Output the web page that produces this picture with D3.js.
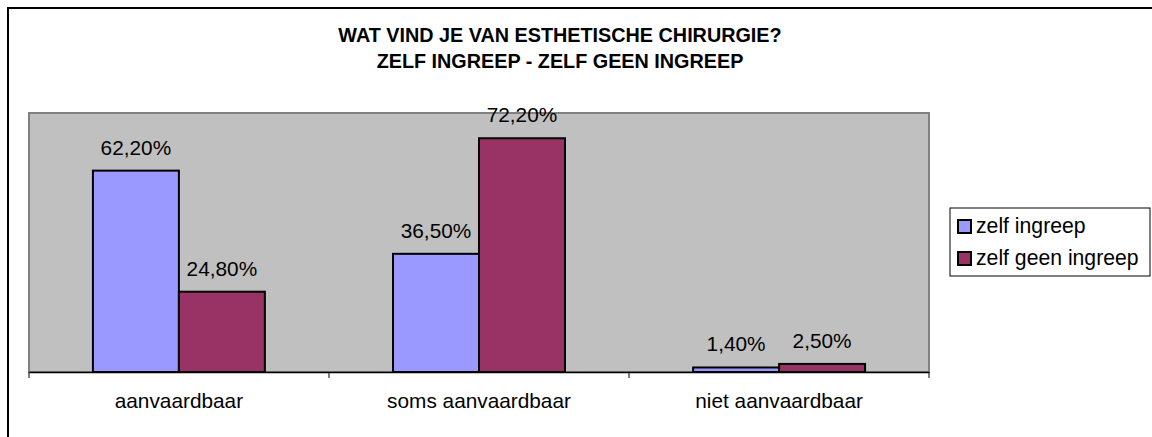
<!DOCTYPE html>
<html>
<head>
<meta charset="utf-8">
<script src="https://cdn.jsdelivr.net/npm/d3@7"></script>
<style>
  body { margin: 0; background: #fff; }
  svg { display: block; font-family: Arial, "Liberation Sans", sans-serif; }
</style>
</head>
<body>
<svg id="chart" width="1152" height="437"></svg>
<script>
// chart data
let categories = ["aanvaardbaar", "soms aanvaardbaar", "niet aanvaardbaar"];
let seriesNames = ["zelf ingreep", "zelf geen ingreep"];
let zelfIngreep = [62.2, 36.5, 1.4];
let zelfGeenIngreep = [24.8, 72.2, 2.5];
let colors = ["#9999FF", "#993366"];
let titleLines = ["WAT VIND JE VAN ESTHETISCHE CHIRURGIE?", "ZELF INGREEP - ZELF GEEN INGREEP"];

function makeChart(){
  let svg = d3.select("#chart");

  // outer chart border (runs off the picture at right and bottom)
  svg.append("rect")
    .attr("x", 8).attr("y", 8)
    .attr("width", 1160).attr("height", 450)
    .attr("fill", "#fff")
    .attr("stroke", "#000")
    .attr("stroke-width", 2);

  // title
  svg.selectAll(".title")
    .data(titleLines)
    .enter()
    .append("text")
      .attr("class", "title")
      .attr("x", 560)
      .attr("y", function(d, i){ return 42 + i * 26; })
      .attr("text-anchor", "middle")
      .style("font-weight", "bold")
      .style("font-size", "19.8px")
      .text(function(d){ return d; });

  let margin = {top: 113, left: 29};
  let width = 900;
  let height = 259;

  let g = svg.append("g")
    .attr("transform", "translate(" + margin.left + "," + margin.top + ")");

  // plot area
  g.append("rect")
    .attr("x", 0).attr("y", 0)
    .attr("width", width).attr("height", height)
    .attr("fill", "#C0C0C0")
    .attr("stroke", "#808080")
    .attr("stroke-width", 2);

  let x0 = d3.scaleBand()
    .domain(categories)
    .range([0, width])
    .paddingInner(0.427)
    .paddingOuter(0.213);

  let x1 = d3.scaleBand()
    .domain(seriesNames)
    .range([0, x0.bandwidth()]);

  let y = d3.scaleLinear()
    .domain([0, 80])
    .range([height, 0]);

  let rows = categories.map(function(c, i){
    return {cat: c, vals: [zelfIngreep[i], zelfGeenIngreep[i]]};
  });

  let groups = g.selectAll(".grp")
    .data(rows)
    .enter()
    .append("g")
      .attr("class", "grp")
      .attr("transform", function(d){ return "translate(" + x0(d.cat) + ",0)"; });

  let cells = groups.selectAll(".bar")
    .data(function(d){
      return d.vals.map(function(v, j){ return {name: seriesNames[j], v: v, j: j}; });
    })
    .enter();

  cells.append("rect")
    .attr("class", "bar")
    .attr("x", function(d){ return x1(d.name); })
    .attr("y", function(d){ return y(d.v); })
    .attr("width", x1.bandwidth())
    .attr("height", function(d){ return height - y(d.v); })
    .attr("fill", function(d){ return colors[d.j]; })
    .attr("stroke", "#000")
    .attr("stroke-width", 2);

  cells.append("text")
    .attr("x", function(d){ return x1(d.name) + x1.bandwidth() / 2; })
    .attr("y", function(d){ return y(d.v) - 16; })
    .attr("text-anchor", "middle")
    .style("font-size", "20.8px")
    .text(function(d){ return d.v.toFixed(2).replace(".", ",") + "%"; });

  // x axis
  let axis = g.append("g")
    .attr("transform", "translate(0," + height + ")")
    .call(d3.axisBottom(x0).tickSize(0).tickPadding(21));
  axis.select(".domain").attr("stroke", "#000").attr("stroke-width", 1.5);
  axis.selectAll("text")
    .style("font-size", "20.8px")
    .style("font-family", "Arial, 'Liberation Sans', sans-serif")
    .attr("fill", "#000");

  // tick marks between categories
  g.selectAll(".tk")
    .data(d3.range(categories.length + 1))
    .enter()
    .append("line")
      .attr("class", "tk")
      .attr("x1", function(i){ return i * width / categories.length; })
      .attr("x2", function(i){ return i * width / categories.length; })
      .attr("y1", height)
      .attr("y2", height + 6)
      .attr("stroke", "#000")
      .attr("stroke-width", 1);

  // legend
  let legend = svg.append("g")
    .attr("transform", "translate(950,208)");
  legend.append("rect")
    .attr("width", 200).attr("height", 68)
    .attr("fill", "#fff")
    .attr("stroke", "#000")
    .attr("stroke-width", 1);
  let items = legend.selectAll(".lg")
    .data(seriesNames)
    .enter()
    .append("g")
      .attr("class", "lg")
      .attr("transform", function(d, i){ return "translate(7," + (25 + i * 32) + ")"; });
  items.append("rect")
    .attr("x", 1).attr("y", -13)
    .attr("width", 13).attr("height", 13)
    .attr("fill", function(d, i){ return colors[i]; })
    .attr("stroke", "#000")
    .attr("stroke-width", 2);
  items.append("text")
    .attr("x", 19).attr("y", 0)
    .style("font-size", "21.2px")
    .text(function(d){ return d; });
}

makeChart();
</script>
</body>
</html>
